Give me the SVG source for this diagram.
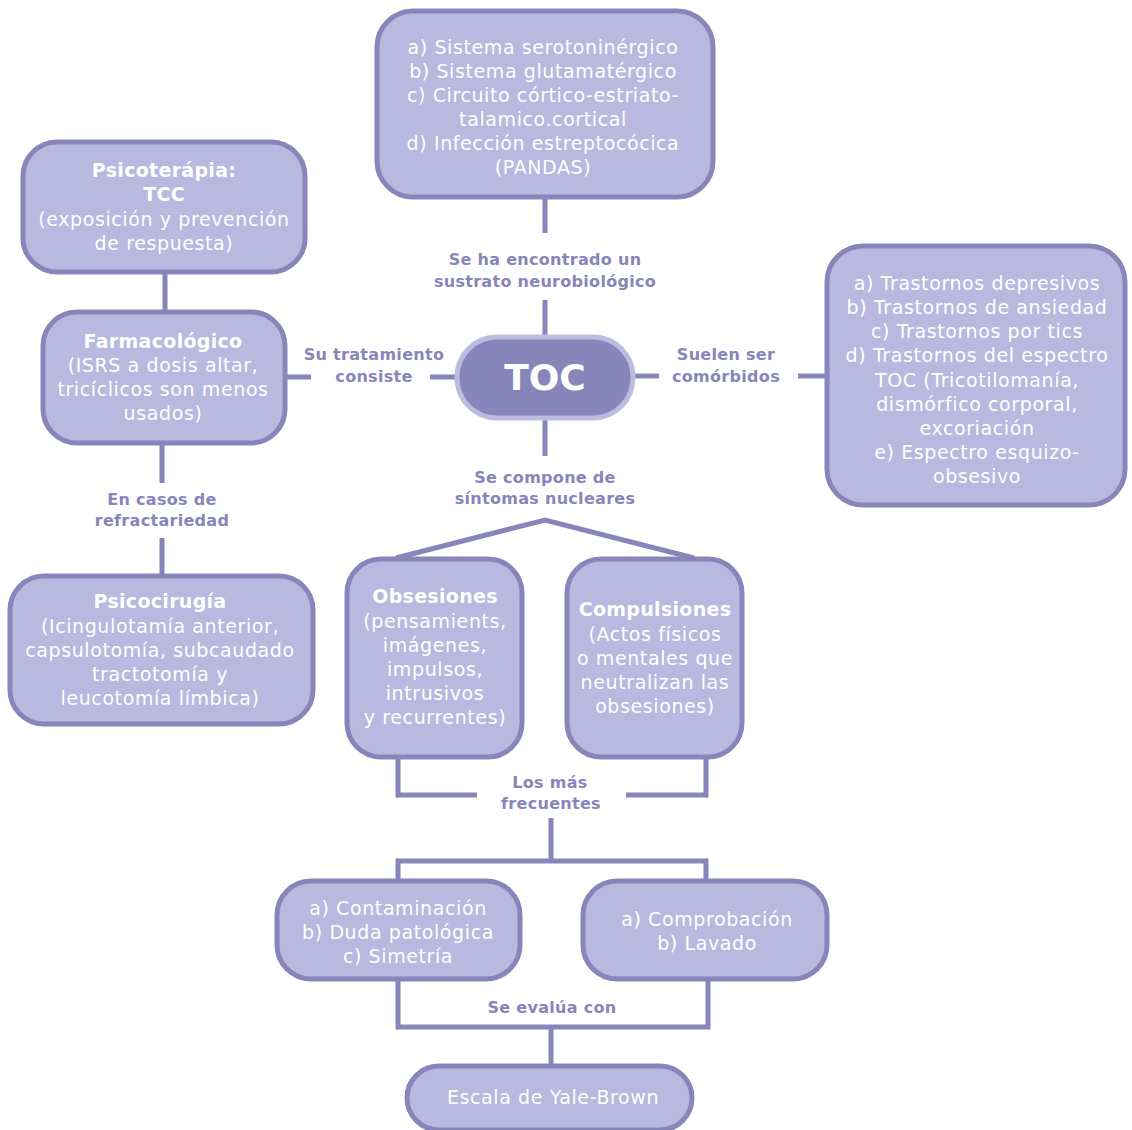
<svg xmlns="http://www.w3.org/2000/svg" width="1132" height="1130" viewBox="0 0 1132 1130">
<style>
.box{fill:#b9b8de;stroke:#8785ba;stroke-width:5}
.toc{fill:#8785ba;stroke:#bcbbe0;stroke-width:5}
.ln{fill:none;stroke:#8785ba;stroke-width:5}
.t{font-family:"DejaVu Sans",sans-serif;font-size:19px;letter-spacing:0.6px;fill:#ffffff;text-anchor:middle}
.b{font-weight:bold;letter-spacing:0.3px}
.lab{font-family:"DejaVu Sans",sans-serif;font-size:16px;letter-spacing:0.3px;font-weight:bold;fill:#8785ba;text-anchor:middle}
</style>
<rect width="1132" height="1130" fill="#ffffff"/>
<g id="connectors">
<path class="ln" d="M545,197V233M545,300V338"/>
<path class="ln" d="M430,377H458M287,377H311"/>
<path class="ln" d="M633,376H659M798,376H827"/>
<path class="ln" d="M545,418V456"/>
<path class="ln" d="M396,558L545,520L694,558"/>
<path class="ln" d="M165,272V313"/>
<path class="ln" d="M162,443V483M162,538V576"/>
<path class="ln" d="M398,756V795H477M626,795H706V756"/>
<path class="ln" d="M551,818V861M398,882V861H706V882"/>
<path class="ln" d="M398,978V1027H708V978M551,1027V1066"/>
</g>
<g id="labels">
<text class="lab" x="545" y="265">Se ha encontrado un</text>
<text class="lab" x="545" y="287">sustrato neurobiológico</text>
<text class="lab" x="374" y="360">Su tratamiento</text>
<text class="lab" x="374" y="382">consiste</text>
<text class="lab" x="726" y="360">Suelen ser</text>
<text class="lab" x="726" y="382">comórbidos</text>
<text class="lab" x="545" y="483">Se compone de</text>
<text class="lab" x="545" y="504">síntomas nucleares</text>
<text class="lab" x="162" y="505">En casos de</text>
<text class="lab" x="162" y="526">refractariedad</text>
<text class="lab" x="550" y="788">Los más</text>
<text class="lab" x="551" y="809">frecuentes</text>
<text class="lab" x="552" y="1013">Se evalúa con</text>
</g>
<g id="n-sustrato">
<rect class="box" x="377" y="11" width="336" height="186" rx="36"/>
<text class="t" x="543" y="54">a) Sistema serotoninérgico</text>
<text class="t" x="543" y="78">b) Sistema glutamatérgico</text>
<text class="t" x="543" y="102">c) Circuito córtico-estriato-</text>
<text class="t" x="543" y="126">talamico.cortical</text>
<text class="t" x="543" y="150">d) Infección estreptocócica</text>
<text class="t" x="543" y="174">(PANDAS)</text>
</g>
<g id="n-toc">
<rect class="toc" x="457" y="337" width="176" height="81" rx="40"/>
<text x="545" y="390" style="font-family:'DejaVu Sans',sans-serif;font-size:36px;font-weight:bold;fill:#fff;text-anchor:middle">TOC</text>
</g>
<g id="n-psicoterapia">
<rect class="box" x="23" y="142" width="282" height="130" rx="34"/>
<text class="t b" x="164" y="177">Psicoterápia:</text>
<text class="t b" x="164" y="201">TCC</text>
<text class="t" x="164" y="226">(exposición y prevención</text>
<text class="t" x="164" y="250">de respuesta)</text>
</g>
<g id="n-farmaco">
<rect class="box" x="43" y="312" width="242" height="131" rx="34"/>
<text class="t b" x="163" y="348">Farmacológico</text>
<text class="t" x="163" y="372">(ISRS a dosis altar,</text>
<text class="t" x="163" y="396">tricíclicos son menos</text>
<text class="t" x="163" y="420">usados)</text>
</g>
<g id="n-psicocirugia">
<rect class="box" x="10" y="576" width="303" height="148" rx="34"/>
<text class="t b" x="160" y="608">Psicocirugía</text>
<text class="t" x="160" y="633">(Icingulotamía anterior,</text>
<text class="t" x="160" y="657">capsulotomía, subcaudado</text>
<text class="t" x="160" y="681">tractotomía y</text>
<text class="t" x="160" y="705">leucotomía límbica)</text>
</g>
<g id="n-comorbidos">
<rect class="box" x="827" y="246" width="298" height="259" rx="36"/>
<text class="t" x="977" y="290">a) Trastornos depresivos</text>
<text class="t" x="977" y="314">b) Trastornos de ansiedad</text>
<text class="t" x="977" y="338">c) Trastornos por tics</text>
<text class="t" x="977" y="362">d) Trastornos del espectro</text>
<text class="t" x="977" y="387">TOC (Tricotilomanía,</text>
<text class="t" x="977" y="411">dismórfico corporal,</text>
<text class="t" x="977" y="435">excoriación</text>
<text class="t" x="977" y="459">e) Espectro esquizo-</text>
<text class="t" x="977" y="483">obsesivo</text>
</g>
<g id="n-obsesiones">
<rect class="box" x="347" y="559" width="175" height="198" rx="34"/>
<text class="t b" x="435" y="603">Obsesiones</text>
<text class="t" x="435" y="628">(pensamients,</text>
<text class="t" x="435" y="652">imágenes,</text>
<text class="t" x="435" y="676">impulsos,</text>
<text class="t" x="435" y="700">intrusivos</text>
<text class="t" x="435" y="724">y recurrentes)</text>
</g>
<g id="n-compulsiones">
<rect class="box" x="567" y="559" width="175" height="198" rx="34"/>
<text class="t b" x="655" y="616">Compulsiones</text>
<text class="t" x="655" y="641">(Actos físicos</text>
<text class="t" x="655" y="665">o mentales que</text>
<text class="t" x="655" y="689">neutralizan las</text>
<text class="t" x="655" y="713">obsesiones)</text>
</g>
<g id="n-obs-freq">
<rect class="box" x="277" y="881" width="243" height="98" rx="34"/>
<text class="t" x="398" y="915">a) Contaminación</text>
<text class="t" x="398" y="939">b) Duda patológica</text>
<text class="t" x="398" y="963">c) Simetría</text>
</g>
<g id="n-comp-freq">
<rect class="box" x="583" y="881" width="244" height="98" rx="34"/>
<text class="t" x="707" y="926">a) Comprobación</text>
<text class="t" x="707" y="950">b) Lavado</text>
</g>
<g id="n-yale">
<rect class="box" x="407" y="1066" width="285" height="64" rx="32"/>
<text class="t" x="553" y="1104">Escala de Yale-Brown</text>
</g>
</svg>
